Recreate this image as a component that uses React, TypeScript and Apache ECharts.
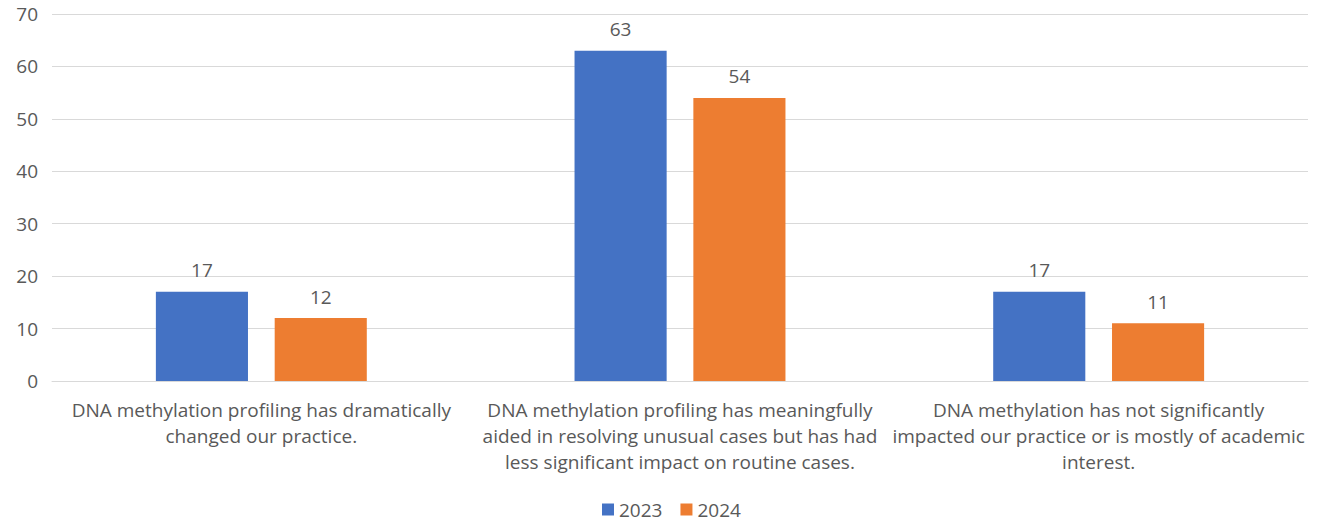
import React, { useEffect, useRef } from "react";
import * as echarts from "echarts";

const categories = [
  "DNA methylation profiling has dramatically\nchanged our practice.",
  "DNA methylation profiling has meaningfully\naided in resolving unusual cases but has had\nless significant impact on routine cases.",
  "DNA methylation has not significantly\nimpacted our practice or is mostly of academic\ninterest.",
];
const seriesNames = ["2023", "2024"];
const values2023 = [17, 63, 17];
const values2024 = [12, 54, 11];
const colors = ["#4472C4", "#ED7D31"];

const FONT = "'Open Sans', 'Noto Sans', sans-serif";
const TEXT = "#595959";
const FS = 19;

export default function App() {
  const ref = useRef<HTMLDivElement>(null);
  useEffect(() => {
    if (!ref.current) return;
    const chart = echarts.init(ref.current, undefined, { renderer: "svg" });
    const mk = (name: string, data: number[], color: string) => ({
      name,
      type: "bar",
      data,
      barWidth: "22%",
      barGap: "29%",
      itemStyle: { color },
      label: {
        show: true,
        position: "top",
        distance: 12,
        color: TEXT,
        fontSize: FS,
        fontFamily: FONT,
      },
    });
    chart.setOption({
      animation: false,
      textStyle: { fontFamily: FONT },
      grid: { left: 52, right: 9, top: 14, bottom: 148, containLabel: false },
      legend: {
        bottom: 5,
        left: 597,
        itemWidth: 12,
        itemHeight: 12,
        itemGap: 18,
        textStyle: { color: TEXT, fontSize: FS, fontFamily: FONT },
        data: seriesNames.map((n) => ({ name: n, icon: "rect" })),
      },
      xAxis: {
        type: "category",
        data: categories,
        axisTick: { show: false },
        axisLine: { lineStyle: { color: "#D9D9D9", width: 1 } },
        axisLabel: {
          color: TEXT,
          fontSize: FS,
          fontFamily: FONT,
          lineHeight: 26,
          margin: 16,
          interval: 0,
        },
      },
      yAxis: {
        type: "value",
        min: 0,
        max: 70,
        interval: 10,
        axisLine: { show: false },
        axisTick: { show: false },
        axisLabel: { color: TEXT, fontSize: FS, fontFamily: FONT, margin: 14 },
        splitLine: { lineStyle: { color: "#D9D9D9", width: 1 } },
      },
      series: [
        mk(seriesNames[0], values2023, colors[0]),
        mk(seriesNames[1], values2024, colors[1]),
      ],
    });
    return () => chart.dispose();
  }, []);
  return (
    <div
      ref={ref}
      style={{ position: "absolute", left: 0, top: 0, width: 1317, height: 529, background: "#fff" }}
    />
  );
}
